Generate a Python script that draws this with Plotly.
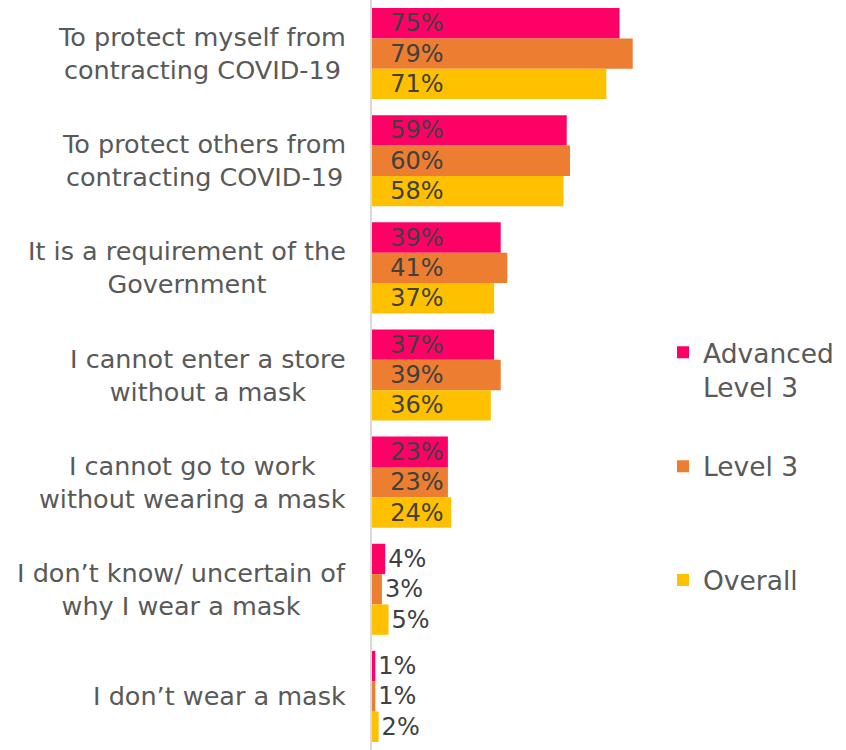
import plotly.graph_objects as go

categories = [
    "To protect myself from<br>contracting COVID-19",
    "To protect others from<br>contracting COVID-19",
    "It is a requirement of the<br>Government",
    "I cannot enter a store<br>without a mask",
    "I cannot go to work<br>without wearing a mask",
    "I don\u2019t know/ uncertain of<br>why I wear a mask",
    "I don\u2019t wear a mask",
]
advanced_level3 = [75, 59, 39, 37, 23, 4, 1]
level3 = [79, 60, 41, 39, 23, 3, 1]
overall = [71, 58, 37, 36, 24, 5, 2]

series_names = ["Advanced<br>Level 3", "Level 3<br>\u00a0", "Overall<br>\u00a0"]
series_values = [advanced_level3, level3, overall]
series_colors = ["#FF0066", "#ED7D31", "#FFC000"]

FONT = "DejaVu Sans"
TXT = "#595959"
LBL = "#404040"

fig = go.Figure()
for i, (name, vals, col) in enumerate(zip(series_names, series_values, series_colors)):
    pos = ["inside" if v >= 10 else "outside" for v in vals]
    txt = [("\u00a0\u00a0" if v >= 10 else "") + f"{v}%" for v in vals]
    fig.add_trace(go.Bar(
        y=categories, x=vals, orientation="h", name=name,
        marker=dict(color=col, line=dict(width=0)),
        text=txt, textposition=pos, insidetextanchor="start",
        constraintext="none", cliponaxis=False,
        textfont=dict(family=FONT, size=24, color=LBL),
        insidetextfont=dict(family=FONT, size=24, color=LBL),
        outsidetextfont=dict(family=FONT, size=24, color=LBL),
        legendgroup=f"g{i}", hoverinfo="skip",
    ))

for c in categories:
    fig.add_annotation(
        x=0, xref="paper", y=c, yref="y", xanchor="right", yanchor="middle",
        xshift=-24, text=c, showarrow=False, align="center",
        font=dict(family=FONT, size=25.5, color=TXT),
    )

fig.update_layout(
    width=846, height=750,
    margin=dict(l=372, r=174, t=0, b=0, autoexpand=False),
    paper_bgcolor="white", plot_bgcolor="white",
    barmode="group", bargap=0.15, bargroupgap=0,
    showlegend=True,
    legend=dict(
        x=0.97, xanchor="left", y=0.562, yanchor="top",
        font=dict(family=FONT, size=26.5, color=TXT),
        traceorder="grouped", tracegroupgap=42, valign="top",
        itemwidth=30, bgcolor="rgba(0,0,0,0)",
    ),
    xaxis=dict(range=[0, 90.9], visible=False, showgrid=False, zeroline=False),
    yaxis=dict(
        autorange="reversed", showticklabels=False, showgrid=False,
        showline=True, linecolor="#D9D9D9", linewidth=2, zeroline=False,
        ticks="",
    ),
)

fig.write_html("out.html", config={"displayModeBar": False},
               post_script="document.body.style.margin='0';")
